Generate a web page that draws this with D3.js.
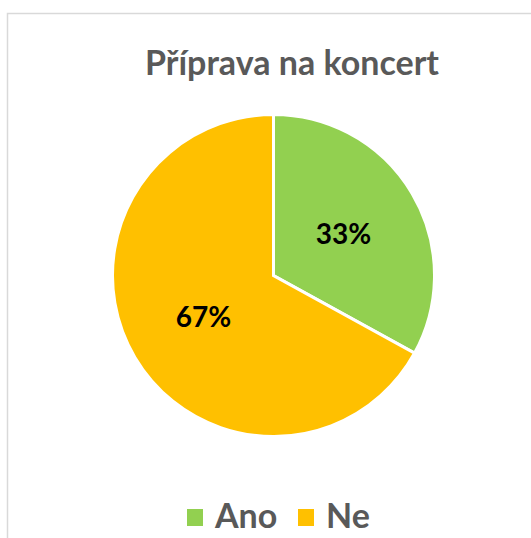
<!DOCTYPE html>
<html>
<head>
<meta charset="utf-8">
<script src="https://cdn.jsdelivr.net/npm/d3@7"></script>
<style>
  body { margin: 0; background: #fff; }
  text { font-family: Lato, "Open Sans", sans-serif; font-weight: bold; }
</style>
</head>
<body>
<svg width="531" height="538"></svg>
<script>
const categories = ['Ano', 'Ne'];
const values = [33, 67];
const colors = ['#92D050', '#FFC000'];
const title = 'Příprava na koncert';

const svg = d3.select('svg');
const [cx, cy, r] = [273.5, 275.5, 161];

// chart frame (clipped on right and bottom like the original)
svg.append('path')
    .attr('d', 'M7.5,540 L7.5,13.5 L540,13.5')
    .attr('fill', 'none')
    .attr('stroke', '#d9d9d9')
    .attr('stroke-width', 1.5);

svg.append('text')
    .attr('x', 292)
    .attr('y', 75)
    .attr('text-anchor', 'middle')
    .attr('fill', '#595959')
    .style('font-size', '34px')
    .text(title);

const pie = d3.pie().sort(null).value(d => d);
const arc = d3.arc().innerRadius(0).outerRadius(r);
const labelArc = d3.arc().innerRadius(r * 0.505).outerRadius(r * 0.505);
const arcs = pie(values);

const g = svg.append('g').attr('transform', `translate(${cx}, ${cy})`);

g.selectAll('path')
    .data(arcs)
    .enter()
    .append('path')
        .attr('d', arc)
        .attr('fill', (d, i) => colors[i])
        .attr('stroke', '#fff')
        .attr('stroke-width', 3);

g.selectAll('text')
    .data(arcs)
    .enter()
    .append('text')
        .attr('transform', d => `translate(${labelArc.centroid(d)})`)
        .attr('text-anchor', 'middle')
        .attr('dy', '0.36em')
        .attr('fill', '#000')
        .style('font-size', '28px')
        .text(d => d3.format('.0%')(d.data / 100));

// legend
const legendX = [187, 298];
const legend = svg.append('g');
categories.forEach((c, i) => {
    legend.append('rect')
        .attr('x', legendX[i])
        .attr('y', 509)
        .attr('width', 16)
        .attr('height', 17)
        .attr('fill', colors[i]);
    legend.append('text')
        .attr('x', legendX[i] + 28)
        .attr('y', 528)
        .attr('fill', '#595959')
        .style('font-size', '34px')
        .text(c);
});
</script>
</body>
</html>
